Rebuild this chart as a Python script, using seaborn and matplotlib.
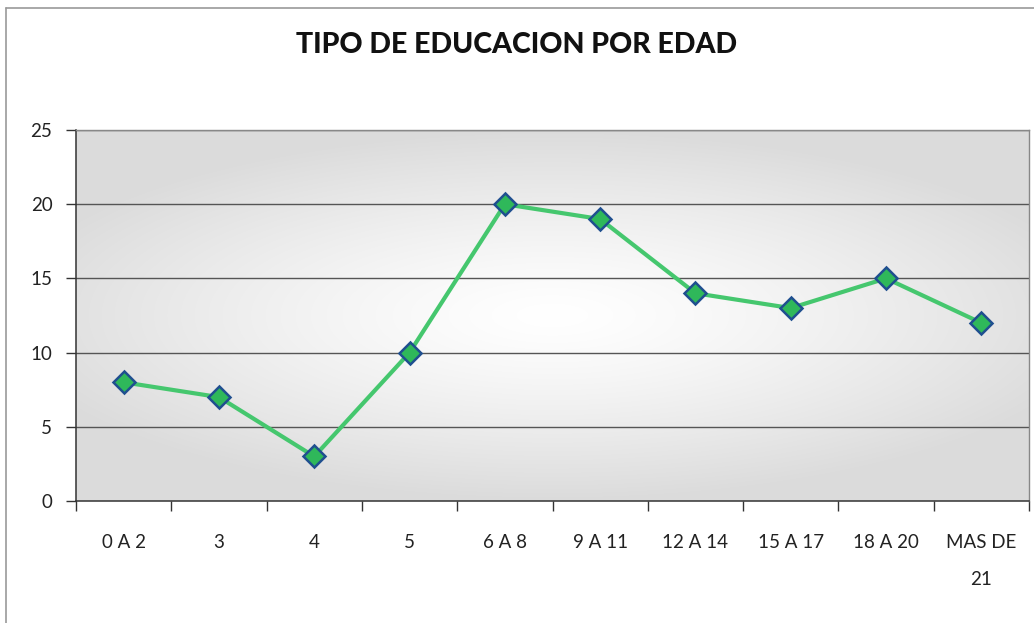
import numpy as np
import pandas as pd
import matplotlib
matplotlib.use("Agg")
import matplotlib.pyplot as plt
from matplotlib.ticker import FixedLocator
import seaborn as sns

categories = ["0 A 2", "3", "4", "5", "6 A 8", "9 A 11", "12 A 14", "15 A 17", "18 A 20", "MAS DE\n21"]
values = [8, 7, 3, 10, 20, 19, 14, 13, 15, 12]
yticks = [0, 5, 10, 15, 20, 25]
title = "TIPO DE EDUCACION POR EDAD"

sns.set_theme(style="white")
plt.rcParams['font.family'] = ['Lato', 'DejaVu Sans']

fig = plt.figure(figsize=(10.34, 6.23), dpi=100)
ax = fig.add_axes([76/1034, 1-501/623, (1029-76)/1034, (501-130)/623])

# radial gradient background
gx, gy = np.meshgrid(np.linspace(-1, 1, 300), np.linspace(-1, 1, 200))
r = np.clip(np.sqrt((gx*0.85)**2 + (gy*1.0)**2), 0, 1)
shade = 1.0 - 0.14 * r**1.3
img = np.dstack([shade, shade, shade])
ax.imshow(img, extent=[0, 1, 0, 1], transform=ax.transAxes, aspect='auto', zorder=0,
          interpolation='bilinear')

df = pd.DataFrame({"cat": categories, "val": values})
df["pos"] = np.arange(len(categories))
sns.lineplot(data=df, x="pos", y="val", ax=ax, sort=False, color="#45c76e", linewidth=3.0,
             marker="D", markersize=11, markerfacecolor="#2fb85a", markeredgecolor="#1f4f8f",
             markeredgewidth=1.8, zorder=5)

ax.set_xlim(-0.5, len(categories) - 0.5)
ax.set_ylim(0, 25)
ax.set_yticks(yticks)
ax.set_yticklabels([str(t) for t in yticks])
ax.set_xticks(df["pos"])
ax.set_xticklabels(categories, linespacing=2.4)
ax.xaxis.set_minor_locator(FixedLocator(np.arange(-0.5, len(categories), 1.0)))
ax.tick_params(axis='x', which='major', length=0, pad=24, labelsize=13.5, colors="#222222")
ax.tick_params(axis='x', which='minor', length=7, width=1, color="#333333", direction='out', bottom=True)
ax.tick_params(axis='y', which='major', length=7, width=1, color="#333333", direction='out',
               left=True, pad=10, labelsize=13.5, labelcolor="#222222")
ax.set_xlabel("")
ax.set_ylabel("")

for t in yticks[1:]:
    ax.axhline(t, color="#555555", linewidth=1.0, zorder=1)

for s in ["left", "bottom"]:
    ax.spines[s].set_color("#333333")
    ax.spines[s].set_linewidth(1.1)
for s in ["right", "top"]:
    ax.spines[s].set_color("#888888")
    ax.spines[s].set_linewidth(1.0)

fig.text(0.5, 1 - 45/623, title, ha='center', va='center', fontsize=20.5, fontweight='black',
         color="#111111")

# outer chart frame (left and top)
fig.add_artist(plt.Line2D([6/1034, 6/1034], [0, 1 - 8/623], transform=fig.transFigure,
                          color="#999999", linewidth=1.2))
fig.add_artist(plt.Line2D([6/1034, 1], [1 - 8/623, 1 - 8/623], transform=fig.transFigure,
                          color="#999999", linewidth=1.2))

fig.savefig("out.png", dpi=100)
